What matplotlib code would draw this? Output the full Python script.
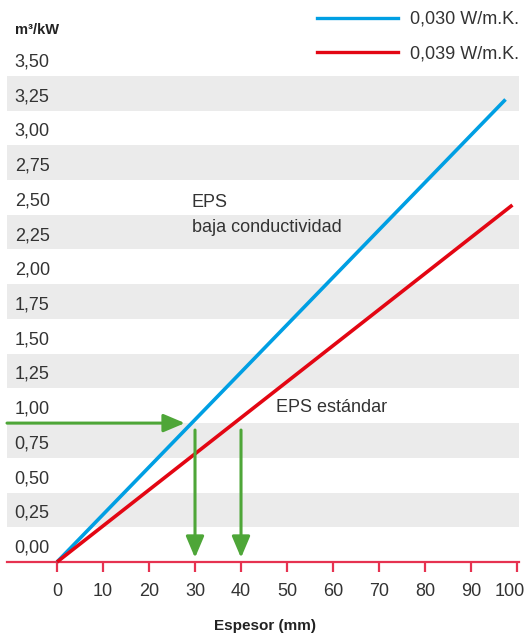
import matplotlib.pyplot as plt
from matplotlib.lines import Line2D
from matplotlib.transforms import ScaledTranslation

# Espesor (mm) vs m³/kW for two EPS conductivities
X_BLUE = [0, 97.5]
Y_BLUE = [0, 3.33]
X_RED = [0, 99.0]
Y_RED = [0, 2.57]
SERIES_LABELS = ["0,030 W/m.K.", "0,039 W/m.K."]

X_TICKS = list(range(0, 101, 10))
Y_TICKS = [0.0, 0.25, 0.5, 0.75, 1.0, 1.25, 1.5, 1.75, 2.0, 2.25, 2.5, 2.75, 3.0, 3.25, 3.5]
Y_TICK_LABELS = ["0,00", "0,25", "0,50", "0,75", "1,00", "1,25", "1,50", "1,75",
                 "2,00", "2,25", "2,50", "2,75", "3,00", "3,25", "3,50"]

# reading guides: 1.0 m³/kW -> 30 mm (low conductivity) / 40 mm (standard)
GUIDE_Y = 1.0
GUIDE_X = [30, 40]

BLUE = "#009fe3"
RED = "#e30613"
AXIS_RED = "#e63250"
GREEN = "#4ea638"
BAND = "#ebebeb"
TXT = "#333333"

plt.rcParams["font.family"] = ["Liberation Sans", "DejaVu Sans"]

W, H = 527, 634
fig = plt.figure(figsize=(W / 100, H / 100), dpi=100)
# axes spans px 7..519 horizontally, full height
ax = fig.add_axes([7 / W, 0, 512 / W, 1])
ax.set_xlim(-10.87, 100.43)
ax.set_ylim(-(H - 562) / 138.9, 562 / 138.9)

# grey bands
for v in Y_TICKS[1::2]:
    ax.axhspan(v, v + 0.25, color=BAND, lw=0, zorder=0)

# y labels sit inside the band, slightly above their value
for v, lab in zip(Y_TICKS, Y_TICK_LABELS):
    ax.text(-9.2, v + 0.1, lab, ha="left", va="center", fontsize=13, color=TXT)

ax.plot(X_BLUE, Y_BLUE, color=BLUE, lw=2.6, solid_capstyle="butt", zorder=3,
        label=SERIES_LABELS[0])
ax.plot(X_RED, Y_RED, color=RED, lw=2.6, solid_capstyle="butt", zorder=3,
        label=SERIES_LABELS[1])

# green guide arrows
arrow_kw = dict(arrowstyle="-|>,head_length=1.3,head_width=0.55", color=GREEN,
                lw=2.2, shrinkA=0, shrinkB=0)
ax.annotate("", xy=(GUIDE_X[0] - 2.2, GUIDE_Y), xytext=(-10.87, GUIDE_Y),
            arrowprops=arrow_kw, zorder=4)
for gx in GUIDE_X:
    ax.annotate("", xy=(gx, 0.03), xytext=(gx, GUIDE_Y - 0.05),
                arrowprops=arrow_kw, zorder=4)

# x axis: red line at 0 with ticks below
for s in ["top", "right", "left"]:
    ax.spines[s].set_visible(False)
ax.spines["bottom"].set_position(("data", 0))
ax.spines["bottom"].set_color(AXIS_RED)
ax.spines["bottom"].set_linewidth(1.6)
ax.set_xticks(X_TICKS)
ax.set_xticklabels([str(t) for t in X_TICKS])
ax.tick_params(axis="x", direction="out", length=7, width=1.6, color=AXIS_RED,
               labelcolor=TXT, labelsize=13, pad=8)
ax.set_yticks([])
# last label is nudged left so it stays on the page
last = ax.get_xticklabels()[-1]
last.set_transform(last.get_transform() + ScaledTranslation(-7 / 100, 0, fig.dpi_scale_trans))

ax.text(29.3, 2.585, "EPS", ha="left", va="center", fontsize=13, color=TXT)
ax.text(29.3, 2.405, "baja conductividad", ha="left", va="center", fontsize=13, color=TXT)
ax.text(47.6, 1.109, "EPS estándar", ha="left", va="center", fontsize=13, color=TXT)

fig.text(15 / W, 1 - 30 / H, "m³/kW", ha="left", va="center", fontsize=10.5,
         fontweight="bold", color="#222222")
fig.text(265 / W, 1 - 626 / H, "Espesor (mm)", ha="center", va="center",
         fontsize=11, fontweight="bold", color="#222222")

handles = [Line2D([], [], color=BLUE, lw=2.4), Line2D([], [], color=RED, lw=2.4)]
fig.legend(handles, SERIES_LABELS, loc="upper left", bbox_to_anchor=(317 / W, 1 - 11 / H),
           frameon=False, fontsize=13, handlelength=4.5, handletextpad=0.65,
           labelspacing=0.95, borderpad=0, borderaxespad=0, labelcolor=TXT)

fig.savefig("out.png", dpi=100)
